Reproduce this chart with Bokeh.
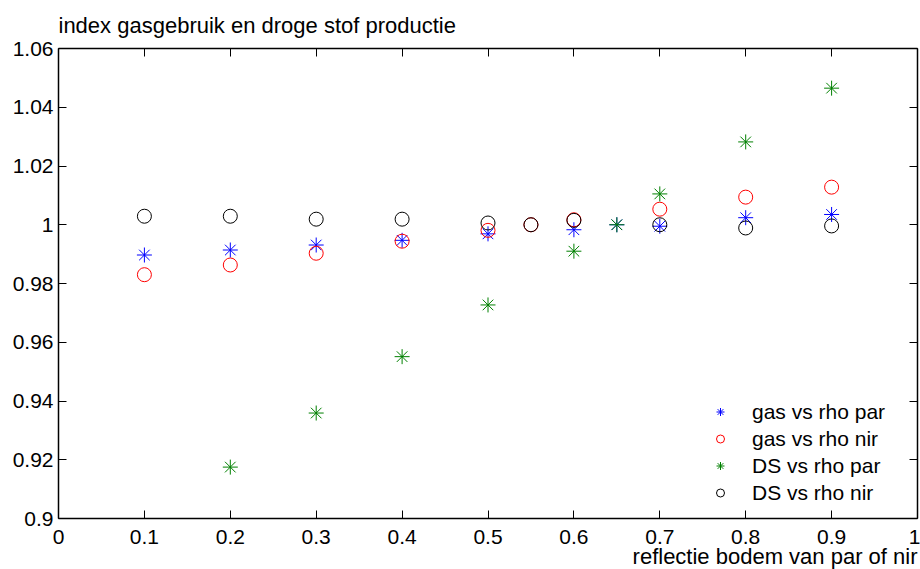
from bokeh.plotting import figure
from bokeh.models import (FixedTicker, LinearAxis, Range1d, Legend, LegendItem, Title)
from bokeh.embed import file_html
from bokeh.resources import INLINE

# data
x_par = [0.1, 0.2, 0.3, 0.4, 0.5, 0.6, 0.65, 0.7, 0.8, 0.9]
x_nir = [0.1, 0.2, 0.3, 0.4, 0.5, 0.55, 0.6, 0.7, 0.8, 0.9]
gas_par = [0.9897, 0.9914, 0.9931, 0.9947, 0.9969, 0.9983, 1.0, 0.9995, 1.0024, 1.0035]
gas_nir = [0.9830, 0.9863, 0.9903, 0.9944, 0.9981, 1.0, 1.0017, 1.0053, 1.0094, 1.0128]
x_ds_par = [0.2, 0.3, 0.4, 0.5, 0.6, 0.65, 0.7, 0.8, 0.9]
ds_par = [0.9175, 0.9359, 0.9551, 0.9727, 0.9910, 1.0, 1.0105, 1.0282, 1.0465]
ds_nir = [1.0029, 1.0029, 1.0019, 1.0019, 1.0006, 1.0, 1.0015, 1.0, 0.9989, 0.9996]

x_ticks = [0, 0.1, 0.2, 0.3, 0.4, 0.5, 0.6, 0.7, 0.8, 0.9, 1.0]
x_labels = ["0", "0.1", "0.2", "0.3", "0.4", "0.5", "0.6", "0.7", "0.8", "0.9", "1"]
y_ticks = [0.9, 0.92, 0.94, 0.96, 0.98, 1.0, 1.02, 1.04, 1.06]
y_labels = ["0.9", "0.92", "0.94", "0.96", "0.98", "1", "1.02", "1.04", "1.06"]

FONT = "Liberation Sans"
FS = "21px"
TFS = "22px"

p = figure(width=920, height=569, output_backend="svg", toolbar_location=None,
           x_range=Range1d(0, 1), y_range=Range1d(0.9, 1.06),
           min_border_left=58, min_border_right=3, min_border_top=47, min_border_bottom=51)
p.grid.visible = False
p.outline_line_color = None
p.background_fill_color = "white"
p.border_fill_color = "white"

p.title.text = "index gasgebruik en droge stof productie"
p.title.text_font = FONT
p.title.text_font_size = TFS
p.title.text_font_style = "normal"
p.title.text_color = "black"
p.title.align = "left"
p.title.offset = 0
p.title.standoff = 21

def style_axis(ax, ticks, labels, show_labels=True):
    ax.ticker = FixedTicker(ticks=ticks)
    ax.minor_tick_line_color = None
    ax.major_tick_in = 8
    ax.major_tick_out = 0
    ax.axis_line_color = "black"
    ax.axis_line_width = 1.5
    ax.major_tick_line_color = "black"
    ax.major_label_text_font = FONT
    ax.major_label_text_font_size = FS
    ax.major_label_text_color = "black"
    if show_labels:
        ax.major_label_overrides = {t: l for t, l in zip(ticks, labels)}
    else:
        ax.major_label_overrides = {t: "" for t in ticks}
        ax.major_label_standoff = 0

style_axis(p.xaxis[0], x_ticks, x_labels)
p.xaxis[0].major_label_standoff = 11
style_axis(p.yaxis[0], y_ticks, y_labels)
p.yaxis[0].major_label_standoff = 5

top = LinearAxis()
style_axis(top, x_ticks, x_labels, show_labels=False)
p.add_layout(top, "above")
right = LinearAxis()
style_axis(right, y_ticks, y_labels, show_labels=False)
p.add_layout(right, "right")

xl = Title(text="reflectie bodem van par of nir", align="right", text_font=FONT,
           text_font_size=TFS, text_font_style="normal", text_color="black",
           offset=0, standoff=-9)
p.add_layout(xl, "below")

r1 = p.scatter(x_par, gas_par, marker="asterisk", size=15, line_color="blue", line_width=1)
r2 = p.scatter(x_nir, gas_nir, marker="circle", size=14, fill_color=None, line_color="red", line_width=1)
r3 = p.scatter(x_ds_par, ds_par, marker="asterisk", size=15, line_color="green", line_width=1)
r4 = p.scatter(x_nir, ds_nir, marker="circle", size=14, fill_color=None, line_color="black", line_width=1)

legend = Legend(items=[LegendItem(label="gas vs rho par", renderers=[r1]),
                       LegendItem(label="gas vs rho nir", renderers=[r2]),
                       LegendItem(label="DS vs rho par", renderers=[r3]),
                       LegendItem(label="DS vs rho nir", renderers=[r4])],
                location=(652, 12))
legend.border_line_color = None
legend.background_fill_alpha = 0
legend.padding = 0
legend.margin = 0
legend.spacing = 0
legend.glyph_width = 20
legend.glyph_height = 27
legend.label_height = 27
legend.label_standoff = 22
legend.label_text_font = FONT
legend.label_text_font_size = FS
legend.label_text_color = "black"
p.add_layout(legend, "center")

open("out.html", "w").write(file_html(p, INLINE))
